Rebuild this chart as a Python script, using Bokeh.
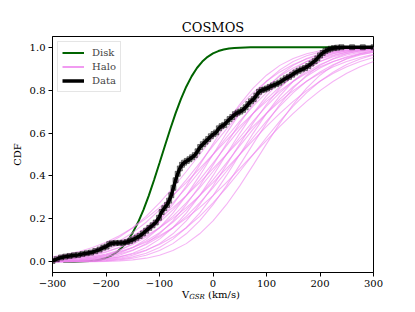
from bokeh.plotting import figure
from bokeh.models import Legend, LegendItem, Range1d, FixedTicker, Div, Spacer
from bokeh.layouts import column
from bokeh.embed import file_html
from bokeh.resources import INLINE

# ---------------- data ----------------
# Disk model CDF
disk_v = [-280, -270, -260, -250, -240, -230, -220, -210, -200, -190, -180, -170,
          -160, -150, -140, -130, -120, -110, -100, -90, -80, -70, -60, -50, -40,
          -30, -20, -10, 0, 10, 20, 30, 40, 50, 60, 70, 80, 90, 300]
disk_cdf = [0.0001, 0.0002, 0.0005, 0.001, 0.0019, 0.0035, 0.0062, 0.0107, 0.0179,
            0.0287, 0.0446, 0.0668, 0.0968, 0.1357, 0.1841, 0.2420, 0.3085, 0.3821,
            0.4602, 0.5398, 0.6179, 0.6915, 0.7580, 0.8159, 0.8643, 0.9032, 0.9332,
            0.9554, 0.9713, 0.9821, 0.9893, 0.9938, 0.9965, 0.9981, 0.999, 0.9995,
            0.9998, 1.0, 1.0]

# Halo model CDFs, sampled on a common velocity grid
halo_v = [-300, -275, -250, -225, -200, -175, -150, -125, -100, -75, -50, -25, 0,
          25, 50, 75, 100, 125, 150, 175, 200, 225, 250, 275, 300]
halo_a = [.0020, .0043, .0088, .0168, .0304, .0521, .0846, .1303, .1908, .2660, .3538, .4503, .5497,
          .6462, .7340, .8092, .8697, .9154, .9479, .9696, .9832, .9912, .9957, .9980, .9991]
halo_b = [.0009, .0020, .0043, .0088, .0168, .0304, .0521, .0846, .1303, .1908, .2660, .3538, .4503,
          .5497, .6462, .7340, .8092, .8697, .9154, .9479, .9696, .9832, .9912, .9957, .9980]
halo_c = [.0004, .0009, .0020, .0043, .0088, .0168, .0304, .0521, .0846, .1303, .1908, .2660, .3538,
          .4503, .5497, .6462, .7340, .8092, .8697, .9154, .9479, .9696, .9832, .9912, .9957]
halo_d = [.0013, .0030, .0062, .0122, .0228, .0401, .0668, .1056, .1587, .2266, .3085, .4013, .5000,
          .5987, .6915, .7734, .8413, .8944, .9332, .9599, .9772, .9878, .9938, .9970, .9987]
halo_e = [.0006, .0013, .0030, .0062, .0122, .0228, .0401, .0668, .1056, .1587, .2266, .3085, .4013,
          .5000, .5987, .6915, .7734, .8413, .8944, .9332, .9599, .9772, .9878, .9938, .9970]
halo_f = [.0001, .0004, .0009, .0020, .0043, .0088, .0168, .0304, .0521, .0846, .1303, .1908, .2660,
          .3538, .4503, .5497, .6462, .7340, .8092, .8697, .9154, .9479, .9696, .9832, .9912]
halo_g = [.0001, .0001, .0004, .0009, .0020, .0043, .0088, .0168, .0304, .0521, .0846, .1303, .1908,
          .2660, .3538, .4503, .5497, .6462, .7340, .8092, .8697, .9154, .9479, .9696, .9832]
halo_s = [.0002, .0006, .0013, .0030, .0062, .0122, .0228, .0401, .0668, .1056, .1587, .2266, .3085,
          .4013, .5000, .5987, .6915, .7734, .8413, .8944, .9332, .9599, .9772, .9878, .9938]
halo_t = [.0139, .0228, .0359, .0548, .0808, .1151, .1587, .2119, .2743, .3446, .4207, .5000, .5793,
          .6554, .7257, .7881, .8413, .8849, .9192, .9452, .9641, .9772, .9861, .9918, .9953]
halo_h = [.0107, .0179, .0287, .0446, .0668, .0968, .1357, .1841, .2420, .3085, .3821, .4602, .5398,
          .6179, .6915, .7580, .8159, .8643, .9032, .9332, .9554, .9713, .9821, .9893, .9938]
halo_k = [.0082, .0139, .0228, .0359, .0548, .0808, .1151, .1587, .2119, .2743, .3446, .4207, .5000,
          .5793, .6554, .7257, .7881, .8413, .8849, .9192, .9452, .9641, .9772, .9861, .9918]
halo_i = [.0062, .0107, .0179, .0287, .0446, .0668, .0968, .1357, .1841, .2420, .3085, .3821, .4602,
          .5398, .6179, .6915, .7580, .8159, .8643, .9032, .9332, .9554, .9713, .9821, .9893]
halo_l = [.0047, .0082, .0139, .0228, .0359, .0548, .0808, .1151, .1587, .2119, .2743, .3446, .4207,
          .5000, .5793, .6554, .7257, .7881, .8413, .8849, .9192, .9452, .9641, .9772, .9861]
halo_j = [.0035, .0062, .0107, .0179, .0287, .0446, .0668, .0968, .1357, .1841, .2420, .3085, .3821,
          .4602, .5398, .6179, .6915, .7580, .8159, .8643, .9032, .9332, .9554, .9713, .9821]
halo_m = [.0026, .0047, .0082, .0139, .0228, .0359, .0548, .0808, .1151, .1587, .2119, .2743, .3446,
          .4207, .5000, .5793, .6554, .7257, .7881, .8413, .8849, .9192, .9452, .9641, .9772]
halo_n = [.0013, .0026, .0047, .0082, .0139, .0228, .0359, .0548, .0808, .1151, .1587, .2119, .2743,
          .3446, .4207, .5000, .5793, .6554, .7257, .7881, .8413, .8849, .9192, .9452, .9641]
halo_o = [.0228, .0334, .0478, .0668, .0912, .1217, .1587, .2023, .2525, .3085, .3694, .4338, .5000,
          .5662, .6306, .6915, .7475, .7977, .8413, .8783, .9088, .9332, .9522, .9666, .9772]
halo_u = [.0151, .0228, .0334, .0478, .0668, .0912, .1217, .1587, .2023, .2525, .3085, .3694, .4338,
          .5000, .5662, .6306, .6915, .7475, .7977, .8413, .8783, .9088, .9332, .9522, .9666]
halo_p = [.0098, .0151, .0228, .0334, .0478, .0668, .0912, .1217, .1587, .2023, .2525, .3085, .3694,
          .4338, .5000, .5662, .6306, .6915, .7475, .7977, .8413, .8783, .9088, .9332, .9522]
halo_q = [.0062, .0098, .0151, .0228, .0334, .0478, .0668, .0912, .1217, .1587, .2023, .2525, .3085,
          .3694, .4338, .5000, .5662, .6306, .6915, .7475, .7977, .8413, .8783, .9088, .9332]
halo_curves = [halo_a, halo_b, halo_c, halo_d, halo_e, halo_f, halo_g, halo_s, halo_t, halo_h,
               halo_k, halo_i, halo_l, halo_j, halo_m, halo_n, halo_o, halo_u, halo_p, halo_q]

# Observed (empirical) CDF
data_v = [-300, -292, -284, -276, -268, -260, -252, -244, -236, -228, -220, -212, -205, -199,
          -194, -189, -182, -175, -168, -161, -155, -149, -143, -137, -131, -125, -119, -113,
          -107, -101, -96, -91, -86, -82, -78, -74, -70, -66, -62, -58, -54, -49, -44, -39,
          -34, -29, -24, -19, -14, -9, -4, 1, 6, 11, 16, 21, 26, 31, 36, 41, 46, 51, 56, 61,
          66, 71, 76, 81, 86, 91, 96, 101, 106, 112, 118, 124, 130, 136, 142, 148, 154, 160,
          166, 172, 178, 184, 190, 195, 200, 205, 210, 215, 220, 226, 232, 240, 260, 280, 300]
data_cdf = [0.004, 0.012, 0.020, 0.024, 0.027, 0.030, 0.032, 0.036, 0.040, 0.043, 0.050, 0.057,
            0.066, 0.071, 0.082, 0.086, 0.087, 0.088, 0.089, 0.092, 0.097, 0.104, 0.112, 0.120,
            0.132, 0.145, 0.158, 0.170, 0.183, 0.205, 0.232, 0.250, 0.265, 0.285, 0.310, 0.345,
            0.380, 0.410, 0.435, 0.452, 0.462, 0.470, 0.478, 0.487, 0.497, 0.515, 0.535, 0.548,
            0.560, 0.572, 0.585, 0.595, 0.603, 0.622, 0.632, 0.638, 0.652, 0.665, 0.675, 0.688,
            0.695, 0.700, 0.708, 0.720, 0.735, 0.748, 0.758, 0.775, 0.792, 0.800, 0.803, 0.808,
            0.815, 0.822, 0.828, 0.835, 0.845, 0.855, 0.862, 0.872, 0.882, 0.890, 0.897, 0.903,
            0.912, 0.924, 0.935, 0.948, 0.962, 0.973, 0.982, 0.988, 0.993, 0.996, 0.998, 1.000,
            1.000, 1.000, 1.000]

x_ticks = [-300, -200, -100, 0, 100, 200, 300]
x_tick_labels = ["\u2212300", "\u2212200", "\u2212100", "0", "100", "200", "300"]
y_ticks = [0.0, 0.2, 0.4, 0.6, 0.8, 1.0]
y_tick_labels = ["0.0", "0.2", "0.4", "0.6", "0.8", "1.0"]

# ---------------- figure ----------------
SERIF = "DejaVu Serif"
DISK_COLOR = "#006400"
HALO_COLOR = "#EE82EE"

p = figure(frame_width=321, frame_height=236, output_backend="svg", toolbar_location=None,
           x_range=Range1d(-300, 300), y_range=Range1d(-0.05, 1.05),
           min_border_left=52, min_border_right=27, min_border_top=0, min_border_bottom=19,
           background_fill_color="white", border_fill_color="white")

p.title.text = "COSMOS"
p.title.align = "center"
p.title.text_font = SERIF
p.title.text_font_size = "13px"
p.title.text_font_style = "normal"
p.title.text_color = "black"
p.title.standoff = 3

p.xgrid.visible = False
p.ygrid.visible = False
p.outline_line_color = "black"
p.outline_line_width = 1

for ax in (p.xaxis, p.yaxis):
    ax.major_label_text_font = SERIF
    ax.major_label_text_font_size = "10px"
    ax.major_label_text_color = "black"
    ax.major_tick_out = 4
    ax.major_tick_in = 0
    ax.minor_tick_out = 0
    ax.minor_tick_in = 0
    ax.major_tick_line_color = "black"
    ax.axis_line_color = "black"
    ax.major_label_standoff = 3

p.xaxis.ticker = FixedTicker(ticks=x_ticks)
p.xaxis.major_label_overrides = {t: s for t, s in zip(x_ticks, x_tick_labels)}
p.yaxis.ticker = FixedTicker(ticks=y_ticks)
p.yaxis.major_label_overrides = {t: s for t, s in zip(y_ticks, y_tick_labels)}

p.yaxis.axis_label = "CDF"
p.yaxis.axis_label_text_font = SERIF
p.yaxis.axis_label_text_font_size = "10px"
p.yaxis.axis_label_text_font_style = "normal"
p.yaxis.axis_label_text_color = "black"
p.yaxis.axis_label_standoff = 4

# ---------------- glyphs ----------------
r_disk = p.line(disk_v, disk_cdf, line_color=DISK_COLOR, line_width=2)

for curve in halo_curves:
    p.line(halo_v, curve, line_color=HALO_COLOR, line_width=1.1, line_alpha=0.6)

# legend-only proxy for the halo family (nothing visible on the plot)
r_halo_key = p.line(x=[float("nan")], y=[float("nan")], line_color=HALO_COLOR,
                    line_width=2, line_alpha=0.8)

r_data = p.line(data_v, data_cdf, line_color="black", line_width=3.5)
p.scatter(data_v, data_cdf, marker="square", size=5, fill_color="black", fill_alpha=0.4,
          line_color="black", line_alpha=0.6, line_width=0.8)

legend = Legend(items=[LegendItem(label="Disk", renderers=[r_disk]),
                       LegendItem(label="Halo", renderers=[r_halo_key]),
                       LegendItem(label="Data", renderers=[r_data])],
                location="top_left", margin=5, padding=4, spacing=1,
                glyph_width=22, glyph_height=13, label_height=13, label_standoff=8,
                label_text_font=SERIF, label_text_font_size="10px",
                border_line_color="#cccccc", border_line_width=1,
                background_fill_alpha=0.8)
p.add_layout(legend)

# x-axis title: V_GSR (km/s), as real text below the plot
xlabel = Div(text='V<sub style="font-size:7px;font-style:italic;vertical-align:-1px;">GSR</sub> (km/s)',
             width=400, height=14,
             styles={"font-family": SERIF, "font-size": "10px", "color": "black",
                     "padding-left": "177px", "line-height": "12px", "margin-top": "-2px"})

layout = column(Spacer(height=16), p, xlabel, spacing=0)
open("out.html", "w").write(file_html(layout, INLINE))
